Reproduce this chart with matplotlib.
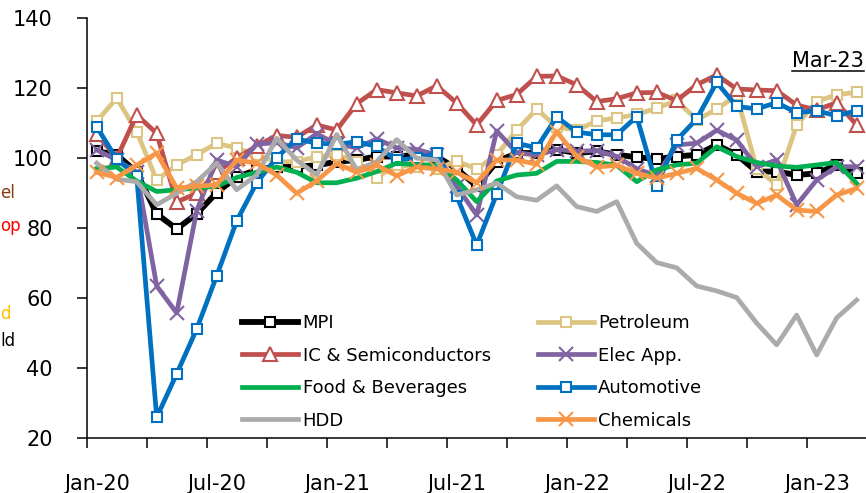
import numpy as np
import pandas as pd
import matplotlib
matplotlib.use('Agg')
import matplotlib.pyplot as plt
from matplotlib.lines import Line2D

# --- data (index, Jan-20 .. Mar-23) ---
months = pd.date_range('2020-01-01', periods=39, freq='MS').strftime('%b-%y').tolist()

mpi = [102, 101, 96, 84.1, 79.8, 84.1, 90.2, 94.6, 96.7, 97.6, 97.6, 98, 99,
       99.5, 100.5, 100.5, 101, 100.5, 97, 92, 99, 101.5, 101.5, 102.5, 101.5,
       102, 101, 100.3, 99.8, 100.5, 101, 103.8, 101, 96.2, 96.2, 95.2, 95.7, 98, 95.7]
ic_semi = [107, 100, 112.4, 107.1, 87.5, 90, 96, 100, 103.5, 106.5, 106, 109.5, 108.1,
           115.6, 119.6, 118.7, 117.8, 120.7, 115.8, 109.5, 116.5, 118.2, 123.4, 123.5, 121,
           116.2, 117, 118.7, 118.8, 116.5, 121, 123.8, 119.8, 119.5, 119.3, 115.2, 113.8, 115.9, 109.5]
food = [97, 97.5, 93.5, 90.5, 91, 91.5, 92, 94.5, 96, 97.5, 96, 93, 93,
        94.3, 96.2, 98.6, 98.1, 98.1, 93.8, 87.6, 93.5, 95.2, 95.7, 99.1, 99.1,
        98.8, 98, 93.3, 96.7, 98.1, 98.6, 103.3, 100.5, 98.8, 97.8, 97.4, 98.1, 98.8, 92.8]
hdd = [98.6, 94, 93.3, 86.7, 90, 93.3, 98.6, 91, 95.2, 105.7, 99.5, 95.2, 106.8,
       96.7, 99, 105.3, 100, 99.5, 89.5, 91, 92.9, 89, 88, 92.1, 86.2,
       84.8, 87.6, 75.7, 70.2, 68.7, 63.5, 62.1, 60.2, 52.9, 46.7, 55.2, 43.8, 54.4, 59.5]
petroleum = [110.5, 117.2, 107.6, 93.8, 98.1, 101, 104.3, 102.9, 101, 99, 99, 100.5, 101,
             99, 94.5, 98, 97.5, 97, 99.2, 96.9, 101, 108, 114, 109, 108,
             110.7, 111.5, 112.5, 114.3, 116.5, 111, 114, 118, 97, 92.4, 109.5, 116.2, 118.2, 118.8]
elec_app = [102.4, 99.5, 96, 63.5, 55.8, 85, 99.5, 97.6, 104, 104.5, 103, 107, 104,
            103, 105.5, 103, 102.5, 101, 92, 83.8, 107.8, 101.6, 100.9, 102.5, 102,
            102.2, 100.5, 97, 95, 103.8, 104.3, 108, 105.2, 97.6, 99.5, 86.7, 93.8, 97.6, 97.6]
automotive = [109, 99.8, 95, 26, 38.4, 51.2, 66.4, 82.1, 93, 100.2, 105.5, 104.3, 104,
              104.7, 103.4, 99.5, 100, 101.4, 89.2, 75.2, 89.8, 104.3, 103, 111.8, 107.5,
              106.7, 106.7, 111.9, 92.2, 105.2, 111.2, 121.7, 114.8, 114.1, 115.9, 113, 113.6, 112.1, 113.6]
chemicals = [96, 94.5, 98, 101.5, 91.5, 92, 92.4, 99.5, 98.6, 95.2, 90, 93.5, 98.5,
             96, 98, 95, 97.5, 97, 96, 93, 99.5, 99.5, 98.3, 107.6, 100.5,
             97.5, 98, 95.7, 94.3, 95.7, 97.1, 93.8, 90, 87.1, 89.5, 85.2, 84.8, 89.5, 91.4]

x = np.arange(len(months))

fig = plt.figure(figsize=(8.66, 4.93), dpi=100)
ax = fig.add_axes([0.1001, 0.111, 0.9007, 0.852])

lw = 3.4
ms_sq = dict(marker='s', markersize=7.5, markerfacecolor='white', markeredgewidth=1.5)

# drawing order (bottom -> top)
l_mpi, = ax.plot(x, mpi, color='black', lw=4.2, markeredgecolor='black', **ms_sq, zorder=2)
l_pet, = ax.plot(x, petroleum, color='#DCC583', lw=lw, markeredgecolor='#DCC583', **ms_sq, zorder=3)
l_ic, = ax.plot(x, ic_semi, color='#C0504D', lw=lw, marker='^', markersize=9.5,
                markerfacecolor='white', markeredgecolor='#C0504D', markeredgewidth=1.5, zorder=4)
l_elec, = ax.plot(x, elec_app, color='#8064A2', lw=lw, marker='x', markersize=10,
                  markeredgewidth=1.5, zorder=5)
l_auto, = ax.plot(x, automotive, color='#0070C0', lw=lw, markeredgecolor='#0070C0', **ms_sq, zorder=6)
l_food, = ax.plot(x, food, color='#00B050', lw=lw, zorder=7)
l_hdd, = ax.plot(x, hdd, color='#ABABAB', lw=lw, zorder=8)
l_chem, = ax.plot(x, chemicals, color='#F79646', lw=lw, marker='x', markersize=10,
                  markeredgewidth=1.5, zorder=9)

ax.set_xlim(-0.5, len(months) - 0.5)
ax.set_ylim(20, 140)
ax.set_yticks(np.arange(20, 141, 20))

# category axis: tick marks every 3 months, labels every 6 months
ax.set_xticks(np.arange(-0.5, len(months), 3))
ax.set_xticklabels([])
ax.set_xticks(x[::6], minor=True)
ax.set_xticklabels([months[i] for i in x[::6]], minor=True)
ax.tick_params(axis='x', which='major', direction='out', length=7.5, width=1.1)
ax.tick_params(axis='x', which='minor', length=0, pad=26, labelsize=15)
ax.tick_params(axis='y', direction='out', length=7.5, width=1.1, pad=17, labelsize=15)

for s in ['top', 'right']:
    ax.spines[s].set_visible(False)
for s in ['left', 'bottom']:
    ax.spines[s].set_linewidth(1.1)

handles = [l_mpi, l_ic, l_food, l_hdd, l_pet, l_elec, l_auto, l_chem]
labels = ['MPI', 'IC & Semiconductors', 'Food & Beverages', 'HDD',
          'Petroleum', 'Elec App.', 'Automotive', 'Chemicals']
ax.legend(handles, labels, ncol=2, frameon=False, fontsize=13,
          loc='upper left', bbox_to_anchor=(226 / 866, 1 - 298 / 493),
          bbox_transform=fig.transFigure, handlelength=3.1, handletextpad=0.25,
          columnspacing=2.6, labelspacing=0.8, borderpad=0.4)

# date note, underlined
t = fig.text(864 / 866, 1 - 67 / 493, 'Mar-23', ha='right', va='baseline', fontsize=15)
fig.canvas.draw()
bb = t.get_window_extent()
fig.add_artist(Line2D([bb.x0 / 866, bb.x1 / 866], [1 - 71 / 493] * 2,
                      transform=fig.transFigure, color='black', lw=1.1))

# fragments of labels showing at the left edge
fig.text(0.5 / 866, 1 - 193 / 493, 'el', color='#843C0C', ha='left', va='center', fontsize=12)
fig.text(0.5 / 866, 1 - 226 / 493, 'op', color='#FF0000', ha='left', va='center', fontsize=12)
fig.text(0.5 / 866, 1 - 314 / 493, 'd', color='#FFC000', ha='left', va='center', fontsize=12)
fig.text(0.5 / 866, 1 - 341 / 493, 'ld', color='black', ha='left', va='center', fontsize=12)

fig.savefig('out.png', dpi=100)
